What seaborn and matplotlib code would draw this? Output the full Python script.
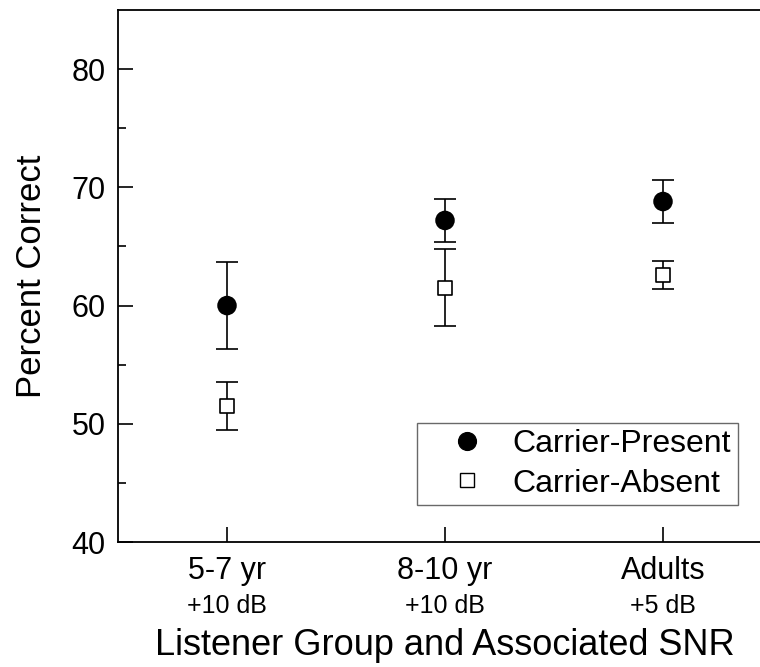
import numpy as np
import pandas as pd
import seaborn as sns
import matplotlib.pyplot as plt
from matplotlib.lines import Line2D

# values
groups = ["5-7 yr", "8-10 yr", "Adults"]
snr_labels = ["+10 dB", "+10 dB", "+5 dB"]
present_mean = [60.0, 67.2, 68.8]
present_err = [3.65, 1.85, 1.8]
absent_mean = [51.5, 61.5, 62.6]
absent_err = [2.0, 3.25, 1.2]

df = pd.DataFrame({
    "pos": list(range(len(groups))) * 2,
    "score": present_mean + absent_mean,
    "err": present_err + absent_err,
    "condition": ["Carrier-Present"] * 3 + ["Carrier-Absent"] * 3,
})

sns.set_style("ticks")
plt.rcParams["font.family"] = ["Liberation Sans", "DejaVu Sans"]
plt.rcParams["xtick.direction"] = "in"
plt.rcParams["ytick.direction"] = "in"
plt.rcParams["text.color"] = "black"
plt.rcParams["axes.labelcolor"] = "black"
plt.rcParams["xtick.color"] = "black"
plt.rcParams["ytick.color"] = "black"

fig = plt.figure(figsize=(7.6, 6.67), dpi=100)
ax = fig.add_axes([118 / 760, 125 / 667, 654 / 760, 532 / 667])

# error bars first so markers sit on top
for cond, sub in df.groupby("condition"):
    ax.errorbar(sub["pos"], sub["score"], yerr=sub["err"], fmt="none",
                ecolor="black", elinewidth=1.2, capsize=8, capthick=1.2, zorder=2)

sns.scatterplot(data=df, x="pos", y="score", style="condition", hue="condition",
                markers={"Carrier-Present": "o", "Carrier-Absent": "s"},
                palette={"Carrier-Present": "black", "Carrier-Absent": "white"},
                size="condition", sizes={"Carrier-Present": 165, "Carrier-Absent": 110},
                edgecolor="black", linewidth=1.2, ax=ax, zorder=3, legend=False)

handles = [
    Line2D([], [], marker="o", ls="none", color="black", markersize=12.8),
    Line2D([], [], marker="s", ls="none", markerfacecolor="white",
           markeredgecolor="black", markersize=10, markeredgewidth=1.0),
]

ax.set_xlim(-0.5, 2.5)
ax.set_ylim(40, 85)
ax.set_xticks(range(len(groups)))
ax.set_xticklabels(groups, fontsize=22)
ax.set_yticks([40, 50, 60, 70, 80])
ax.set_yticks([45, 55, 65, 75], minor=True)
ax.tick_params(axis="y", labelsize=22, pad=9)
ax.tick_params(which="major", direction="in", length=11, width=1.2)
ax.tick_params(which="minor", direction="in", length=6, width=1.2)
ax.tick_params(axis="x", pad=10)
for s in ax.spines.values():
    s.set_linewidth(1.3)
    s.set_color("black")

for i, lab in enumerate(snr_labels):
    ax.text(i, -0.12, lab, transform=ax.get_xaxis_transform(),
            ha="center", va="center", fontsize=18)

ax.set_xlabel("Listener Group and Associated SNR", fontsize=26, labelpad=30)
ax.set_ylabel("Percent Correct", fontsize=25, labelpad=17)

leg = ax.legend(handles, ["Carrier-Present", "Carrier-Absent"],
                loc="lower left", bbox_to_anchor=(417 / 760, 162 / 667),
                bbox_transform=fig.transFigure, fontsize=23, frameon=True,
                fancybox=False, edgecolor="#444444", handletextpad=0.1,
                borderpad=0.2, labelspacing=0.3, handlelength=2.7, borderaxespad=0)
leg.get_frame().set_linewidth(1.0)

fig.savefig("out.png", dpi=100)
